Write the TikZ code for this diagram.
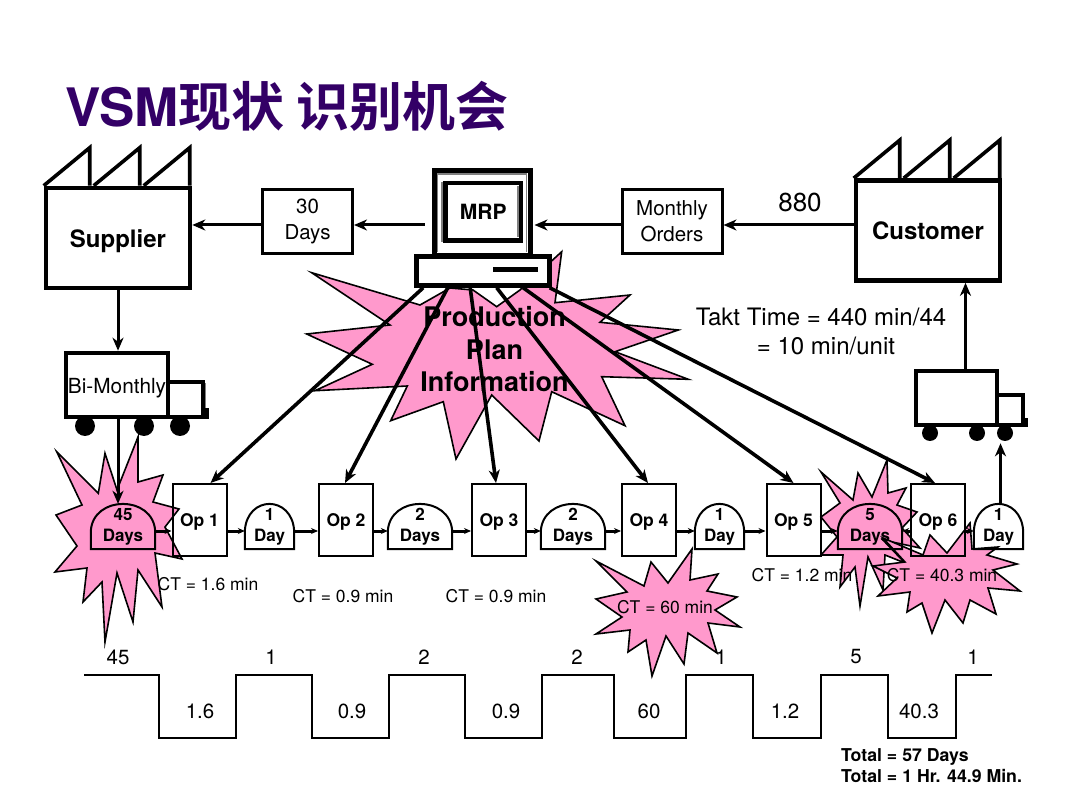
\documentclass[tikz,border=0pt]{standalone}
\usepackage{fontspec}
\usepackage{tikz}
\usetikzlibrary{arrows.meta,calc}
\setmainfont{TeX Gyre Heros}
\newfontfamily\cjkbold[BoldFont={Noto Sans CJK SC Bold}]{Noto Sans CJK SC}
\definecolor{titlepurple}{HTML}{330066}
\definecolor{burstpink}{HTML}{FF99CC}
\tikzset{
    factory/.style={draw, rectangle, line width=4.6pt, fill=white, minimum width=144pt, minimum height=100pt, font=\fontsize{24}{28}\selectfont\bfseries},
    roofline/.style={line width=3.6pt, line join=miter},
    notebox/.style={draw, rectangle, line width=3pt, fill=white, minimum width=90pt, minimum height=64pt, align=center, font=\fontsize{20.5}{26}\selectfont},
    opbox/.style={draw, rectangle, line width=2pt, minimum width=54pt, minimum height=72pt, text depth=0pt, font=\fontsize{17.5}{20}\selectfont\bfseries},
    invbox/.style={minimum height=45pt, inner sep=0pt, align=center, font=\fontsize{17}{21}\selectfont\bfseries, execute at begin node={\rule{0pt}{17pt}}},
    domeline/.style={line width=2pt},
    burst/.style={draw=black, line width=1.6pt, fill=burstpink, line join=miter},
    cttext/.style={font=\fontsize{17.5}{20}\selectfont},
    steptext/.style={font=\fontsize{20.5}{24}\selectfont},
    link/.style={->, line width=3pt},
    infolink/.style={->, line width=3.6pt},
    flow/.style={-{Stealth[length=7pt,width=6pt]}, line width=3pt},
}
\newcommand{\factoryroof}[1]{
    \draw [roofline] (#1.north west) -- ++(46,-38) -- ++(0,38) ++(4,0) -- ++(46,-38) -- ++(0,38) ++(4,0) -- ++(46,-38) -- ++(0,38);
}
\newcommand{\domeoutline}[1]{
    \draw [domeline] (#1.south west) -- ($(#1.south west)+(0,-18)$) .. controls ($(#1.north west)+(2,-9)$) and ($(#1.north east)+(-2,-9)$) .. ($(#1.south east)+(0,-18)$) -- (#1.south east) -- cycle;
}
\begin{document}
\begin{tikzpicture}[x=1pt, y=-1pt, >={Stealth[length=13pt,width=11pt,inset=4pt]}]
    \useasboundingbox (0,0) rectangle (1080,810);
    \fill [white] (0,0) rectangle (1080,810);
    \node [anchor=base west, inner sep=0pt, text=titlepurple, font=\fontsize{53}{60}\selectfont\bfseries] (title) at (65,127) {VSM{\cjkbold 现状 识别机会}};

    \draw [burst] (311.7,272.7) -- (420,305) -- (450,288) -- (473,290) -- (496.7,306.7) -- (520,290) -- (561.7,251.7) -- (555,302.7) -- (630,295) -- (600,322.3) -- (678.3,330) -- (615,351.7) -- (688.3,379.3) -- (601.7,376.7) -- (625,425.7) -- (551.7,391.7) -- (539,441) -- (491.7,395) -- (456,459) -- (443.3,401.7) -- (390.7,420.7) -- (407.3,386) -- (315,390.7) -- (372.3,364.3) -- (306.7,334) -- (390,325) -- cycle;
    \draw [burst] (56.7,451.7) -- (98.3,493.3) -- (105,453.3) -- (117,490) -- (138,437) -- (138,482) -- (163,475) -- (153,502) -- (179,509) -- (165,527) -- (182,559) -- (155,553) -- (162,607) -- (138,570) -- (133,622) -- (117,573) -- (105,642) -- (102,582) -- (83,602) -- (87,568) -- (55,572) -- (77,546) -- (56,515) -- (82,505) -- cycle;
    \draw [burst] (821,472) -- (853,500) -- (858,473) -- (872,497) -- (887,460) -- (888,493) -- (906,488) -- (897,505) -- (917,512) -- (902,528) -- (920,548) -- (883,540) -- (905,563) -- (885,555) -- (883,590) -- (868,557) -- (860,606) -- (855,567) -- (840,587) -- (843,555) -- (821,555) -- (837,537) -- (821,517) -- (840,503) -- cycle;
    \draw [burst] (970,523) -- (972,549) -- (998,547) -- (987,555) -- (1017,564) -- (993,570) -- (1020,591) -- (988,588) -- (996,614) -- (970,600) -- (963,623) -- (945,600) -- (932,633) -- (922,603) -- (907,612) -- (910,592) -- (878,596) -- (897,578) -- (873,566) -- (905,562) -- (883,538) -- (923,555) -- (930,535) -- (947,553) -- cycle;
    \draw [burst] (596,561) -- (644,586) -- (651,562) -- (668,583) -- (692,549) -- (690,580) -- (718,574) -- (707,591) -- (737,597) -- (715,610) -- (740,627) -- (708,623) -- (717,653) -- (688,633) -- (684,664) -- (666,636) -- (652,676) -- (646,640) -- (628,652) -- (630,630) -- (596,634) -- (622,617) -- (596,599) -- (627,592) -- cycle;
    \node [align=center, font=\fontsize{27}{32.5}\selectfont\bfseries] (planinfo) at (494.5,349.5) {Production\\Plan\\Information};

    \node [factory, text height=20pt, text depth=0pt] (supplier) at (118,238) {Supplier};
    \node [factory] (customer) at (928,230.5) {Customer};
    \factoryroof{supplier}
    \factoryroof{customer}
    \node [notebox] (leadtime) at (307.5,221.5) {30\\Days};
    \node [notebox, minimum width=100pt] (orders) at (672,221.5) {Monthly\\Orders};
    \node [font=\fontsize{26}{30}\selectfont] (volume) at (800,202) {880};
    \node [align=center, font=\fontsize{24}{29}\selectfont] (takt) at (821,331.5) {Takt Time = 440 min/44\\\hspace*{10pt}= 10 min/unit};

    \node [draw, rectangle, line width=5pt, fill=white, minimum width=96pt, minimum height=85.5pt] (monitor) at (482,213) {};
    \draw [gray, line width=1.5pt] (437.5,252) -- (437.5,174) -- (526.5,174) -- (526.5,252);
    \draw [gray, line width=1.5pt] (518,186) -- (518,237) (442,182) -- (442,242);
    \node [draw, rectangle, line width=4.5pt, minimum width=75.5pt, minimum height=57.5pt, font=\fontsize{21}{24}\selectfont\bfseries] (screen) at (483.2,211.7) {MRP};
    \node [draw, rectangle, line width=4.5pt, fill=white, minimum width=133pt, minimum height=29pt] (mrpbase) at (483.2,271) {};
    \draw [line width=4.5pt] (493,269.5) -- (538,269.5);

    \node [draw, rectangle, line width=4.6pt, fill=white, minimum width=102pt, minimum height=64pt, inner sep=0pt, text height=17.5pt, text depth=0pt, font=\fontsize{20.8}{24}\selectfont] (truckin) at (117,385) {Bi-Monthly};
    \draw [gray, line width=1.5pt] (205.5,383) -- (205.5,410);
    \draw [line width=4pt] (170,382) -- (203,382) -- (203,417);
    \fill (203,408) rectangle (209,419);
    \draw [line width=4pt] (168,417) -- (203,417);
    \foreach \wheelx in {85,144,180} \fill (\wheelx,426) circle (10);

    \node [draw, rectangle, line width=4.6pt, fill=white, minimum width=81pt, minimum height=54pt] (truckout) at (956.5,398) {};
    \draw [line width=4pt] (998,395) -- (1023,395) -- (1023,425);
    \fill (1023,418) rectangle (1028,427);
    \draw [line width=4pt] (997,425) -- (1023,425);
    \foreach \wheelx in {930,977,1005} \fill (\wheelx,433) circle (8);

    \node [opbox] (op1) at (199.5,520) {Op 1};
    \node [opbox, right of=op1, node distance=146.5pt] (op2) {Op 2};
    \node [opbox, right of=op2, node distance=153pt] (op3) {Op 3};
    \node [opbox, right of=op3, node distance=150pt] (op4) {Op 4};
    \node [opbox, right of=op4, node distance=144.5pt] (op5) {Op 5};
    \node [opbox, right of=op5, node distance=144.5pt] (op6) {Op 6};

    \node [invbox, minimum width=64pt] (inv0) at (123,526.5) {45\\Days};
    \node [invbox, minimum width=49pt, right of=op1, node distance=70pt, yshift=-6.5pt] (inv1) {1\\Day};
    \node [invbox, minimum width=64pt, right of=op2, node distance=74pt, yshift=-6.5pt] (inv2) {2\\Days};
    \node [invbox, minimum width=64pt, right of=op3, node distance=74pt, yshift=-6.5pt] (inv3) {2\\Days};
    \node [invbox, minimum width=49pt, right of=op4, node distance=70.5pt, yshift=-6.5pt] (inv4) {1\\Day};
    \node [invbox, minimum width=64pt, right of=op5, node distance=76.5pt, yshift=-6.5pt] (inv5) {5\\Days};
    \node [invbox, minimum width=49pt, right of=op6, node distance=60.5pt, yshift=-6.5pt] (inv6) {1\\Day};
    \foreach \domename in {inv0,inv1,inv2,inv3,inv4,inv5,inv6} {\domeoutline{\domename}}

    \foreach \fromop/\toinv in {op1/inv1,op2/inv2,op3/inv3,op4/inv4,op5/inv5} \draw [flow] ([yshift=-11pt]\fromop.east) -- ([yshift=-4.5pt]\toinv.west);
    \foreach \frominv/\toop in {inv0/op1,inv1/op2,inv2/op3,inv3/op4,inv4/op5} \draw [flow] ([yshift=-4.5pt]\frominv.east) -- ([yshift=-11pt]\toop.west);
    \draw [flow] ([yshift=-11pt]op6.west) -- ([yshift=-4.5pt]inv5.east);
    \draw [flow] ([yshift=-11pt]op6.east) -- ([yshift=-4.5pt]inv6.west);

    \node [cttext] (ct1) at (208,584) {CT = 1.6 min};
    \node [cttext] (ct2) at (343,596) {CT = 0.9 min};
    \node [cttext] (ct3) at (496,596) {CT = 0.9 min};
    \node [cttext] (ct4) at (665,607) {CT = 60 min};
    \node [cttext] (ct5) at (802,575) {CT = 1.2 min};
    \node [cttext] (ct6) at (942,575) {CT = 40.3 min};

    \draw [link] ([yshift=-3.5pt]leadtime.west) -- ([yshift=13pt]supplier.east);
    \draw [link] ([xshift=-7pt,yshift=-12pt]monitor.west) -- ([yshift=-3.5pt]leadtime.east);
    \draw [link] ([yshift=-3.5pt]orders.west) -- ([xshift=2pt,yshift=-12pt]monitor.east);
    \draw [link] ([yshift=5.5pt]customer.west) -- ([yshift=-3.5pt]orders.east);
    \draw [link] (supplier.south) -- ([xshift=1pt]truckin.north);
    \draw [link] ([xshift=1pt]truckin.south) -- ([xshift=-5pt]inv0.north);
    \draw [link] ([xshift=9pt]truckout.north) -- ([xshift=37.5pt]customer.south);
    \draw [link] ([xshift=2pt]inv6.north) -- ([xshift=44pt,yshift=-16pt]truckout.south);

    \foreach \basex/\target/\tipx in {-60/op1/11,-35.5/op2/-1,-13/op3/-3,13.5/op4/-1,40/op5/0,66.5/op6/-3}
        \draw [infolink] ([xshift=\basex pt]mrpbase.south) -- ([xshift=\tipx pt]\target.north);

    \draw [line width=2pt] (84,675) -- (159,675) -- (159,738) -- (236,738) -- (236,675) -- (312,675) -- (312,738) -- (389,738) -- (389,675) -- (465,675) -- (465,738) -- (542,738) -- (542,675) -- (614,675) -- (614,738) -- (686,738) -- (686,675) -- (753,675) -- (753,738) -- (821,738) -- (821,675) -- (888,675) -- (888,738) -- (956,738) -- (956,675) -- (992,675);
    \foreach \labelx/\labeltext [count=\labelid] in {118/45,271/1,424/2,577/2,721/1,856/5,973/1}
        \node [steptext] (wait\labelid) at (\labelx,657) {\labeltext};
    \foreach \labelx/\labeltext [count=\labelid] in {200/1.6,352/0.9,506/0.9,649/60,785/1.2,919/40.3}
        \node [steptext] (cycle\labelid) at (\labelx,711) {\labeltext};
    \node [anchor=north west, inner sep=0pt, align=left, font=\fontsize{17.7}{21}\selectfont\bfseries] (totals) at (841,748) {Total = 57 Days\\Total = 1 Hr. 44.9 Min.};
\end{tikzpicture}
\end{document}
